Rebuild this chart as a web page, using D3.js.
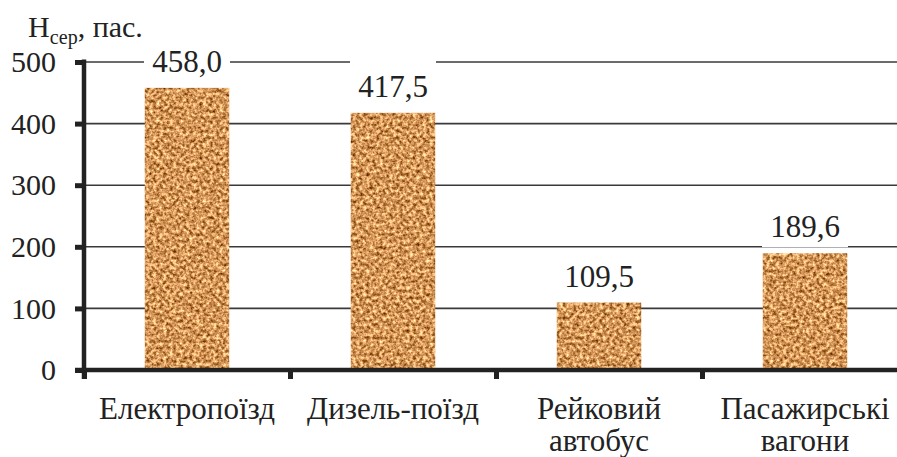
<!DOCTYPE html>
<html>
<head>
<meta charset="utf-8">
<script src="https://cdn.jsdelivr.net/npm/d3@7"></script>
<style>
  body { margin: 0; background: #fff; }
</style>
</head>
<body>
<div id="chart"></div>
<script>
const categories = [
  ['Електропоїзд'],
  ['Дизель-поїзд'],
  ['Рейковий', 'автобус'],
  ['Пасажирські', 'вагони'],
];
const values = [458.0, 417.5, 109.5, 189.6];
const yTicks = [0, 100, 200, 300, 400, 500];

const width = 897;
const height = 457;
const margins = { top: 62, left: 84, bottom: 87 };
const plotBottom = height - margins.bottom; // 370
const serif = '"Liberation Serif", "Times New Roman", serif';
const fmt = v => v.toFixed(1).replace('.', ',');

const svg = d3.select('#chart')
  .append('svg')
    .attr('width', width)
    .attr('height', height)
    .style('display', 'block');

// cork-like texture for the bars
const defs = svg.append('defs');
const cork = defs.append('filter')
  .attr('id', 'cork')
  .attr('x', 0).attr('y', 0)
  .attr('width', 1).attr('height', 1)
  .attr('color-interpolation-filters', 'sRGB');
cork.append('feTurbulence')
  .attr('type', 'fractalNoise')
  .attr('baseFrequency', 0.3)
  .attr('numOctaves', 3)
  .attr('seed', 7)
  .attr('result', 'noise');
cork.append('feColorMatrix')
  .attr('in', 'noise')
  .attr('type', 'matrix')
  .attr('values', [
    1.2, 0, 0, 0, 0.23,
    1.2, 0, 0, 0, -0.01,
    1.1, 0, 0, 0, -0.2,
    0, 0, 0, 0, 1,
  ].join(' '))
  .attr('result', 'tone');
cork.append('feComposite')
  .attr('in', 'tone')
  .attr('in2', 'SourceGraphic')
  .attr('operator', 'in');

const scaleY = d3.scaleLinear()
  .domain([0, 500])
  .range([plotBottom, margins.top]);

const scaleX = d3.scaleBand()
  .domain(d3.range(categories.length))
  .range([margins.left, margins.left + 206 * categories.length])
  .padding(0);

const scaleEdge = d3.scaleLinear()
  .domain([0, categories.length])
  .range(scaleX.range());

const barWidth = scaleX.bandwidth() * 0.41;

// gridlines
svg.append('g')
  .selectAll('line')
  .data(yTicks.slice(1))
  .enter()
  .append('line')
    .attr('x1', margins.left)
    .attr('x2', width)
    .attr('y1', d => scaleY(d))
    .attr('y2', d => scaleY(d))
    .attr('stroke', '#3a3a3a')
    .attr('stroke-width', 1.6);

// bars
svg.append('g')
  .selectAll('rect')
  .data(values)
  .enter()
  .append('rect')
    .attr('x', (d, i) => scaleX(i) + (scaleX.bandwidth() - barWidth) / 2)
    .attr('y', d => scaleY(d))
    .attr('width', barWidth)
    .attr('height', d => plotBottom - scaleY(d))
    .attr('fill', '#c8925c')
    .attr('filter', 'url(#cork)');

// value labels on white boxes
const labels = svg.append('g')
  .selectAll('g')
  .data(values)
  .enter()
  .append('g')
    .attr('transform', (d, i) => `translate(${scaleX(i) + scaleX.bandwidth() / 2}, ${scaleY(d) - 16})`);

labels.append('rect')
  .attr('x', -43)
  .attr('y', -37)
  .attr('width', 86)
  .attr('height', 47)
  .attr('fill', '#fff');

labels.append('text')
  .attr('text-anchor', 'middle')
  .attr('font-size', 31)
  .attr('fill', '#222')
  .style('font-family', serif)
  .text(d => fmt(d));

// y axis
const axisY = d3.axisLeft(scaleY)
  .tickValues(yTicks)
  .tickSize(9)
  .tickPadding(19)
  .tickFormat(d => d);

const y = svg.append('g')
  .attr('transform', `translate(${margins.left}, 0)`)
  .call(axisY);
y.select('.domain').remove();
y.selectAll('.tick line')
  .attr('stroke', '#222')
  .attr('stroke-width', 5);
y.selectAll('.tick text')
  .attr('font-size', 30)
  .attr('fill', '#222')
  .style('font-family', serif);
y.append('line')
  .attr('x1', 0).attr('x2', 0)
  .attr('y1', margins.top - 2.5)
  .attr('y2', plotBottom + 9)
  .attr('stroke', '#222')
  .attr('stroke-width', 4.5);

// x axis
const axisX = d3.axisBottom(scaleEdge)
  .tickValues(d3.range(categories.length + 1))
  .tickSize(9)
  .tickSizeOuter(0)
  .tickFormat('');

const x = svg.append('g')
  .attr('transform', `translate(0, ${plotBottom})`)
  .call(axisX);
x.select('.domain').remove();
x.selectAll('.tick line')
  .attr('stroke', '#222')
  .attr('stroke-width', 5);
x.append('line')
  .attr('x1', margins.left - 9)
  .attr('x2', width)
  .attr('y1', 0).attr('y2', 0)
  .attr('stroke', '#222')
  .attr('stroke-width', 4.5);

// category labels, one text per line
const catLines = categories.flatMap((d, i) => d.map((line, k) => ({ i, k, line })));
svg.append('g')
  .selectAll('text')
  .data(catLines)
  .enter()
  .append('text')
    .attr('x', d => scaleX(d.i) + scaleX.bandwidth() / 2)
    .attr('y', d => plotBottom + 49 + d.k * 32)
    .attr('text-anchor', 'middle')
    .attr('font-size', 31)
    .attr('fill', '#222')
    .style('font-family', serif)
    .text(d => d.line);

// axis title
const title = svg.append('text')
  .attr('x', 28)
  .attr('y', 37)
  .attr('font-size', 30)
  .attr('fill', '#222')
  .style('font-family', serif);
title.append('tspan').text('H');
title.append('tspan')
  .attr('font-size', 20)
  .attr('dy', 7)
  .text('сер');
title.append('tspan')
  .attr('dy', -7)
  .text(', пас.');
</script>
</body>
</html>
